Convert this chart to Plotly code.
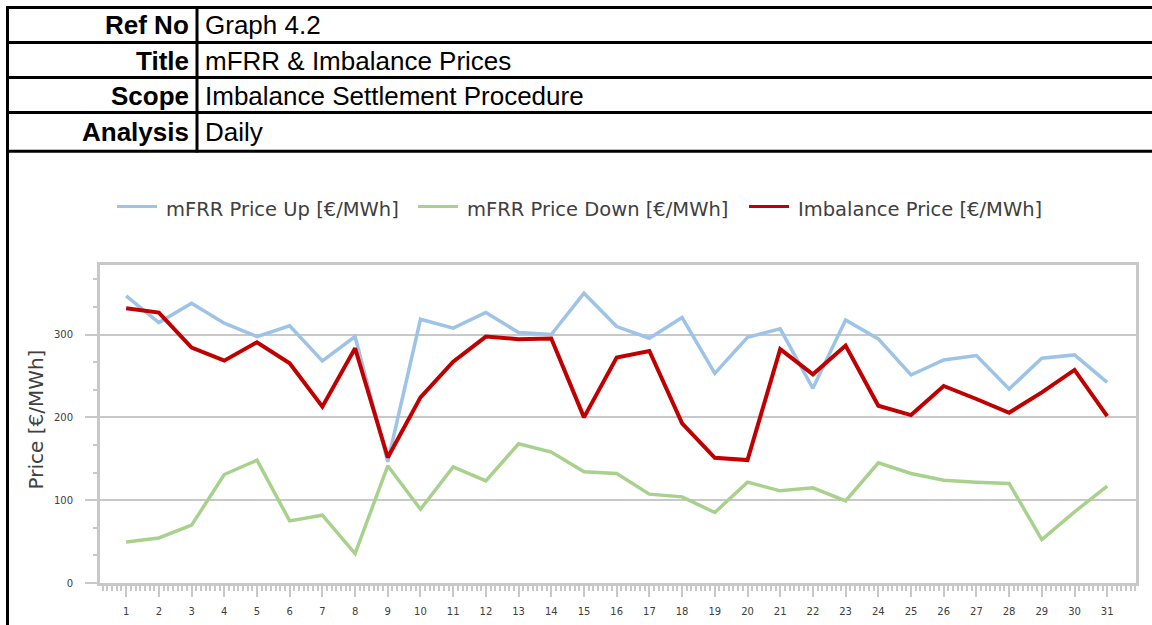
import plotly.graph_objects as go

# Daily prices for the month
days = list(range(1, 32))
mfrr_up = [346.8, 314.5, 337.9, 313.7, 297.6, 310.5, 268.1, 297.6, 146.4, 318.5,
           307.7, 326.6, 302.4, 300.0, 350.0, 309.7, 295.6, 320.6, 253.2, 296.8,
           306.9, 235.1, 317.7, 294.8, 251.2, 269.4, 274.6, 234.3, 271.4, 275.4, 242.3]
mfrr_down = [49.6, 54.4, 69.8, 131.0, 148.4, 75.0, 81.9, 35.5, 141.5, 89.1,
             140.3, 123.4, 168.1, 158.1, 134.3, 132.3, 107.3, 104.0, 85.1, 121.8,
             111.3, 114.9, 99.2, 145.2, 132.3, 124.2, 121.8, 120.2, 52.4, 85.9, 116.9]
imbalance = [331.9, 326.6, 284.3, 268.5, 290.7, 265.3, 212.9, 283.5, 151.6, 224.2,
             267.3, 297.6, 294.4, 295.2, 200.0, 272.2, 280.2, 192.7, 151.2, 148.4,
             282.3, 252.0, 286.7, 214.1, 202.8, 237.9, 222.2, 205.6, 230.2, 257.3, 201.6]

series_names = ["mFRR Price Up [€/MWh]", "mFRR Price Down [€/MWh]", "Imbalance Price [€/MWh]"]
series_colors = ["#9DC3E6", "#A9D18E", "#C00000"]
series_widths = [3.5, 3.5, 4]

header_labels = ["Ref No", "Title", "Scope", "Analysis"]
header_values = ["Graph 4.2", "mFRR & Imbalance Prices", "Imbalance Settlement Procedure", "Daily"]

W, H = 1152, 625
ML, MR, MT, MB = 100, 16, 265, 42
PW, PH = W - ML - MR, H - MT - MB


def xp(px):
    return (px - ML) / PW


def yp(py):
    return (H - MB - py) / PH


fig = go.Figure()
for vals, name, col, lw in zip([mfrr_up, mfrr_down, imbalance], series_names, series_colors, series_widths):
    fig.add_trace(go.Scatter(x=days, y=vals, mode="lines", name=name, showlegend=False,
                             line=dict(color=col, width=lw)))

grey = "#C8C8C8"
axis_font = dict(family="DejaVu Sans", size=10, color="#404040")

fig.update_xaxes(
    range=[0.2, 31.88], tickmode="linear", tick0=1, dtick=1,
    showgrid=False, zeroline=False,
    showline=True, linecolor=grey, linewidth=3, mirror=True,
    ticks="outside", ticklen=11, tickwidth=2, tickcolor=grey,
    minor=dict(dtick=1 / 7, tick0=1, ticks="outside", ticklen=5, tickwidth=1.5, tickcolor=grey),
    tickfont=axis_font, ticklabelstandoff=6,
)
fig.update_yaxes(
    range=[0, 384], tickmode="linear", tick0=0, dtick=100,
    showgrid=True, gridcolor=grey, gridwidth=2, zeroline=False,
    showline=True, linecolor=grey, linewidth=3, mirror=True,
    ticks="outside", ticklen=12, tickwidth=2, tickcolor=grey,
    minor=dict(dtick=100 / 3, tick0=0, ticks="outside", ticklen=4, tickwidth=1.5, tickcolor=grey,
               showgrid=False),
    tickfont=axis_font, ticklabelstandoff=10,
)

shapes = []
blk = dict(color="black", width=3)
# header table borders
for py in [7.5, 42.5, 77.5, 112.5, 151.3]:
    shapes.append(dict(type="line", xref="paper", yref="paper",
                       x0=xp(6), x1=xp(W + 5), y0=yp(py), y1=yp(py), line=blk))
shapes.append(dict(type="line", xref="paper", yref="paper",
                   x0=xp(7.5), x1=xp(7.5), y0=yp(6), y1=yp(H + 5), line=blk))
shapes.append(dict(type="line", xref="paper", yref="paper",
                   x0=xp(197), x1=xp(197), y0=yp(6), y1=yp(152.5), line=blk))

annotations = []
row_centres = [25.5, 60.5, 95.5, 132.5]
hdr_font = dict(family="Liberation Sans, Arial", size=26, color="black")
for lab, val, cy in zip(header_labels, header_values, row_centres):
    annotations.append(dict(text=f"<b>{lab}</b>", xref="paper", yref="paper",
                            x=xp(190.5), y=yp(cy), xanchor="right", yanchor="middle",
                            showarrow=False, font=hdr_font))
    annotations.append(dict(text=val, xref="paper", yref="paper",
                            x=xp(203), y=yp(cy), xanchor="left", yanchor="middle",
                            showarrow=False, font=hdr_font))

annotations.append(dict(text="Price [€/MWh]", xref="paper", yref="paper",
                        x=xp(35.5), y=yp(420), xanchor="center", yanchor="middle",
                        textangle=-90, showarrow=False,
                        font=dict(family="DejaVu Sans", size=20, color="#404040")))

# legend row: sample line followed by series name
legend_starts = [117, 418, 749]
for x0, name, col in zip(legend_starts, series_names, series_colors):
    shapes.append(dict(type="line", xref="paper", yref="paper",
                       x0=xp(x0), x1=xp(x0 + 40), y0=yp(206.5), y1=yp(206.5),
                       line=dict(color=col, width=3)))
    annotations.append(dict(text=name, xref="paper", yref="paper",
                            x=xp(x0 + 47), y=yp(210), xanchor="left", yanchor="middle",
                            showarrow=False,
                            font=dict(family="DejaVu Sans", size=19.5, color="#404040")))

fig.update_layout(
    width=W, height=H,
    margin=dict(l=ML, r=MR, t=MT, b=MB, autoexpand=False),
    paper_bgcolor="white", plot_bgcolor="white",
    showlegend=False,
    shapes=shapes, annotations=annotations,
)

fig.write_html("out.html")
